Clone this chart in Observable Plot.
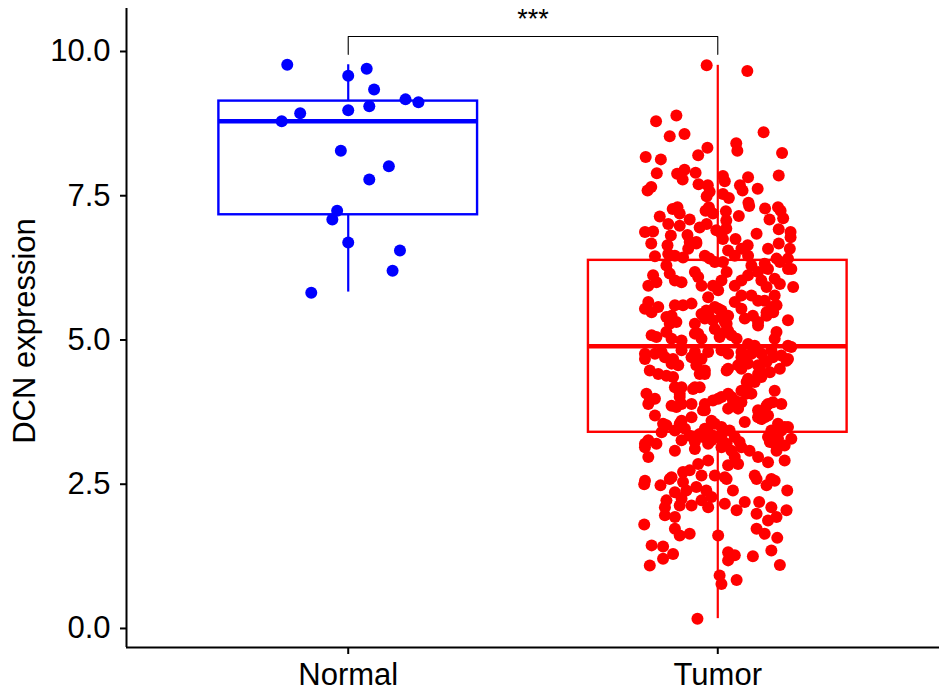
<!DOCTYPE html>
<html>
<head>
<meta charset="utf-8">
<script src="https://cdn.jsdelivr.net/npm/d3@7"></script>
<script src="https://cdn.jsdelivr.net/npm/@observablehq/plot@0.6"></script>
<style>
  html, body { margin: 0; padding: 0; background: #fff; }
</style>
</head>
<body>
<div id="chart"></div>
<script>
// ---- data ----
const groups = ["Normal", "Tumor"];
const groupColors = ["#0000FF", "#FF0000"];
const whiskerLow  = [5.83, 0.17];
const boxQ1       = [7.17, 3.40];
const boxMedian   = [8.79, 4.89];
const boxQ3       = [9.14, 6.38];
const whiskerHigh = [9.77, 9.76];
const yTicks = [0, 2.5, 5, 7.5, 10];
const yLabel = "DCN expression";
const sigLabel = "***";
const bracketTop = 10.26;
const bracketTip = 9.95;
const sigLabelY = 10.40;

const normalJitter = [-0.165, 0, 0.05, 0.07, 0.155, 0.19, 0, 0.057, -0.13, -0.18, -0.02, 0.11, 0.057, -0.03, -0.043, 0, 0.14, 0.12, -0.1];
const normalValues = [9.77, 9.58, 9.70, 9.34, 9.17, 9.12, 8.98, 9.05, 8.93, 8.79, 8.28, 8.01, 7.78, 7.24, 7.09, 6.69, 6.55, 6.20, 5.82];

// [jitter, value]
const tumorPoints = [
[-0.03,9.76],[0.08,9.66],[-0.167,8.79],[-0.112,8.89],[-0.13,8.53],[-0.09,8.57],[0.124,8.60],[-0.028,8.33],[0.05,8.41],[0.053,8.28],[-0.053,8.20],[-0.195,8.17],[-0.154,8.13],[0.174,8.24],[-0.165,7.89],[-0.19,7.59],[-0.18,7.65],[-0.11,7.88],[-0.09,7.95],[-0.095,7.78],[-0.06,7.90],[-0.052,7.70],[-0.027,7.68],[-0.03,7.49],[0.014,7.84],[0.019,7.75],[0.082,7.82],[0.06,7.68],[0.067,7.59],[0.108,7.62],[0.165,7.85],[0.014,7.53],[0.03,7.46],[0.083,7.38],[0.085,7.32],[0.128,7.28],[0.163,7.30],[0.17,7.24],[0.177,7.11],[0.14,7.09],[-0.122,7.27],[-0.109,7.30],[-0.103,7.19],[-0.157,7.14],[-0.033,7.24],[-0.024,7.30],[-0.013,7.19],[0.022,7.23],[0.023,7.07],[0.057,7.15],[-0.076,7.09],[-0.134,7.01],[-0.103,6.98],[-0.049,6.95],[-0.03,7.01],[-0.004,6.90],[0.01,6.84],[0.023,6.93],[-0.197,6.87],[-0.175,6.88],[-0.127,6.81],[-0.082,6.82],[-0.076,6.70],[-0.058,6.70],[-0.18,6.67],[-0.136,6.64],[0.014,6.75],[0.048,6.75],[0.081,6.64],[0.105,6.84],[0.165,6.92],[0.197,6.87],[0.197,6.78],[0.165,6.67],[0.195,6.58],[0.136,6.58],[-0.022,7.57],
[-0.058,6.67],[-0.08,6.58],[0.064,6.58],[-0.17,6.45],[-0.134,6.49],[-0.116,6.46],[-0.094,6.43],[-0.035,6.46],[-0.022,6.41],[0.028,6.55],[0.046,6.46],[0.082,6.46],[0.159,6.41],[0.168,6.35],[0.19,6.41],[0.199,6.23],[-0.175,6.12],[-0.188,5.94],[-0.139,6.29],[-0.13,6.15],[-0.116,6.03],[-0.098,6.00],[-0.062,6.18],[-0.053,6.09],[-0.044,5.94],[-0.008,6.35],[0.014,6.35],[0.024,6.18],[0.01,6.03],[-0.013,5.94],[0.001,5.86],[0.046,5.94],[0.064,6.03],[0.082,6.12],[0.091,6.29],[0.109,6.18],[0.118,6.03],[0.132,5.92],[0.127,6.32],[0.136,6.23],[0.154,6.06],[0.168,5.97],[0.19,6.23],[0.204,5.92],[0.064,5.77],[0.091,5.77],[0.109,5.68],[0.127,5.68],[0.154,5.77],[-0.188,5.66],[-0.197,5.54],[-0.179,5.48],[-0.161,5.57],[-0.139,5.40],[-0.13,5.28],[-0.116,5.60],[-0.094,5.60],[-0.071,5.63],[-0.062,5.28],[-0.026,5.74],[-0.008,5.57],[0.001,5.54],[-0.026,5.45],[-0.035,5.37],[0.01,5.40],[0.028,5.42],[0.024,5.28],[0.046,5.66],[0.064,5.54],[0.073,5.37],[0.095,5.42],[0.109,5.31],[0.132,5.48],[0.145,5.57],[0.159,5.60],[0.19,5.34],[-0.179,5.08],[-0.166,5.05],[-0.139,5.14],[-0.125,5.02],[-0.098,4.99],[-0.053,5.11],[-0.044,5.02],[-0.008,5.19],[0.005,5.05],[0.019,5.14],[0.037,5.08],[0.051,5.02],[0.082,4.93],[0.1,4.90],[0.159,5.14],[0.154,5.02],[0.19,4.90],[0.199,4.88],[-0.197,4.76],[-0.152,4.79],[-0.098,4.82],[-0.062,4.79],[-0.026,4.79],[0.01,4.82],[0.028,4.76],[0.064,4.79],[0.118,4.76],[0.145,4.82],
[-0.166,6.00],[-0.125,5.42],[-0.112,5.31],[-0.062,5.11],[-0.044,5.45],[-0.031,5.51],[-0.013,5.34],[0.01,5.51],[0.019,5.31],[0.028,5.16],[0.109,5.25],[0.132,5.42],[0.15,5.48],
[-0.197,4.67],[-0.184,4.47],[-0.161,4.41],[-0.17,4.76],[-0.143,4.70],[-0.125,4.59],[-0.121,4.36],[-0.107,4.56],[-0.071,4.70],[-0.058,4.56],[-0.049,4.41],[-0.035,4.47],[0.028,4.50],[0.055,4.56],[0.068,4.64],[0.091,4.76],[0.114,4.50],[0.132,4.62],[0.149,4.70],[0.172,4.73],[0.19,4.67],[0.082,4.33],[0.1,4.27],[0.118,4.36],[-0.193,4.07],[-0.188,3.89],[-0.17,3.98],[-0.116,4.18],[-0.103,4.01],[-0.098,3.89],[-0.112,3.84],[-0.062,4.18],[-0.049,4.18],[-0.013,3.95],[0.01,4.01],[0.028,4.07],[0.041,3.89],[0.055,3.81],[0.064,4.12],[0.082,4.24],[0.091,4.07],[0.109,3.78],[0.132,3.86],[0.149,3.92],[0.172,3.89],[0.154,4.12],[-0.17,3.69],[-0.148,3.55],[-0.152,3.40],[-0.098,3.60],[-0.071,3.66],[-0.089,3.46],[-0.04,3.78],[-0.026,3.40],[-0.008,3.55],[0.01,3.49],[0.032,3.43],[0.046,3.32],[0.073,3.58],[0.109,3.66],[0.127,3.66],[0.145,3.43],[0.163,3.29],[0.19,3.49],[0.199,3.29],[-0.197,3.20],[-0.166,3.20],[-0.098,3.26],[-0.062,3.23],[-0.017,3.26],[0.01,3.14],[0.059,3.23],[0.141,3.23],[0.181,3.17],
[-0.121,4.67],[-0.044,4.67],[0.064,4.70],[0.082,4.59],[0.109,4.56],[0.127,4.64],[0.186,4.64],[-0.139,4.38],[-0.035,4.41],[0.024,4.47],[0.064,4.50],[0.109,4.41],[0.141,4.44],[0.168,4.50],[0.078,4.27],[-0.098,4.18],[-0.103,4.07],[-0.067,4.15],[-0.184,3.95],[0.037,4.01],[0.078,4.07],[0.136,3.89],[0.001,3.98],[0.046,3.95],[0.064,3.92],[-0.125,3.86],[-0.071,3.89],[-0.035,3.89],[-0.035,3.78],[0.028,3.81],[-0.139,3.52],[-0.103,3.55],[-0.116,3.43],[-0.017,3.60],[-0.035,3.46],[-0.049,3.37],[0.114,3.75],[0.118,3.63],[0.136,3.69],[0.163,3.55],[0.172,3.43],[0.181,3.49],[-0.188,3.26],[-0.197,3.14],[-0.188,2.97],[-0.116,3.08],[-0.076,3.34],[-0.062,3.11],[-0.04,3.32],[-0.026,3.20],[-0.013,3.34],[0.01,3.32],[0.024,3.20],[0.037,3.08],[0.046,2.97],[0.064,3.14],[0.086,3.08],[0.109,2.97],[0.136,3.32],[0.154,3.20],[0.159,3.08],[0.136,2.88],[0.181,2.91],[-0.053,2.85],[-0.026,2.91],[0.028,2.83],[0.055,2.85],[-0.197,2.56],[-0.125,2.62],[-0.094,2.71],[-0.076,2.74],[-0.044,2.65],[-0.008,2.65],[0.019,2.62],[0.1,2.65],[0.145,2.59],
[-0.199,2.50],[-0.155,2.48],[-0.13,2.59],[-0.116,2.36],[-0.139,2.22],[-0.143,2.10],[-0.143,1.96],[-0.116,1.93],[-0.094,2.54],[-0.085,2.39],[-0.098,2.25],[-0.103,2.13],[-0.058,2.45],[-0.071,2.13],[-0.044,2.22],[-0.026,2.10],[-0.017,2.28],[-0.031,2.39],[0.024,2.59],[0.041,2.39],[0.019,2.16],[0.051,2.05],[0.073,2.19],[0.105,2.59],[0.154,2.56],[0.132,2.48],[0.188,2.39],[0.112,2.19],[0.105,1.99],[0.145,2.10],[0.159,1.93],[0.136,1.87],[0.186,2.05],[-0.199,1.80],[-0.116,1.73],[-0.103,1.61],[-0.076,1.64],[0.001,1.61],[0.105,1.73],[0.127,1.64],[0.161,1.57],[-0.179,1.44],[-0.148,1.42],[-0.121,1.29],[-0.148,1.21],[-0.184,1.09],[0.028,1.32],[0.046,1.27],[0.028,1.18],[0.095,1.25],[0.145,1.35],[0.168,1.10],[0.005,0.92],[0.01,0.77],[0.051,0.84],[-0.055,0.17]
];

// ---- build tables ----
const BOX_HALF = 0.35;
const boxes = groups.map((g, i) => ({
  group: g, pos: i + 1, color: groupColors[i],
  lo: whiskerLow[i], q1: boxQ1[i], med: boxMedian[i], q3: boxQ3[i], hi: whiskerHigh[i]
}));
const points = [
  ...normalValues.map((v, i) => ({pos: 1 + normalJitter[i], v, color: groupColors[0]})),
  ...tumorPoints.map(([j, v]) => ({pos: 2 + j, v, color: groupColors[1]}))
];
const p1 = groups.indexOf("Normal") + 1, p2 = groups.indexOf("Tumor") + 1;
const bracket = [
  {x: p1, y: bracketTip}, {x: p1, y: bracketTop},
  {x: p2, y: bracketTop}, {x: p2, y: bracketTip}
];

const chart = Plot.plot({
  width: 939,
  height: 691,
  marginLeft: 126,
  marginRight: 0,
  marginTop: 8,
  marginBottom: 44,
  x: {domain: [0.4, 2.6], axis: null},
  y: {domain: [-0.33, 10.745], axis: null},
  color: {type: "identity"},
  style: {fontFamily: "'Liberation Sans', Arial, Helvetica, sans-serif", fontSize: "31px", background: "#fff", color: "#000", overflow: "visible"},
  marks: [
    Plot.ruleX(boxes, {x: "pos", y1: "q3", y2: "hi", stroke: "color", strokeWidth: 2.2}),
    Plot.ruleX(boxes, {x: "pos", y1: "lo", y2: "q1", stroke: "color", strokeWidth: 2.2}),
    Plot.rect(boxes, {x1: d => d.pos - BOX_HALF, x2: d => d.pos + BOX_HALF, y1: "q1", y2: "q3", fill: "white", stroke: "color", strokeWidth: 2.4}),
    Plot.ruleY(boxes, {y: "med", x1: d => d.pos - BOX_HALF, x2: d => d.pos + BOX_HALF, stroke: "color", strokeWidth: 4.5}),
    Plot.dot(points, {x: "pos", y: "v", r: 6, fill: "color", stroke: null}),
    Plot.line(bracket, {x: "x", y: "y", stroke: "black", strokeWidth: 1.1}),
    Plot.text([sigLabel], {x: (p1 + p2) / 2, y: sigLabelY, text: d => d, fontSize: 27, textAnchor: "middle", lineAnchor: "bottom"}),
    Plot.ruleX([0.4], {stroke: "black", strokeWidth: 2}),
    Plot.ruleY([-0.33], {stroke: "black", strokeWidth: 2}),
    Plot.axisY({ticks: yTicks, tickFormat: d3.format(".1f"), tickSize: 6, tickPadding: 10, strokeWidth: 2, label: null, fontSize: 31}),
    Plot.axisX({ticks: [1, 2], tickFormat: d => groups[d - 1], tickSize: 7, tickPadding: 8, strokeWidth: 2, label: null, fontSize: 31}),
    Plot.text([yLabel], {frameAnchor: "left", rotate: -90, dx: -101, dy: 3, text: d => d, fontSize: 31, textAnchor: "middle", lineAnchor: "middle"})
  ]
});
document.getElementById("chart").appendChild(chart);
</script>
</body>
</html>
